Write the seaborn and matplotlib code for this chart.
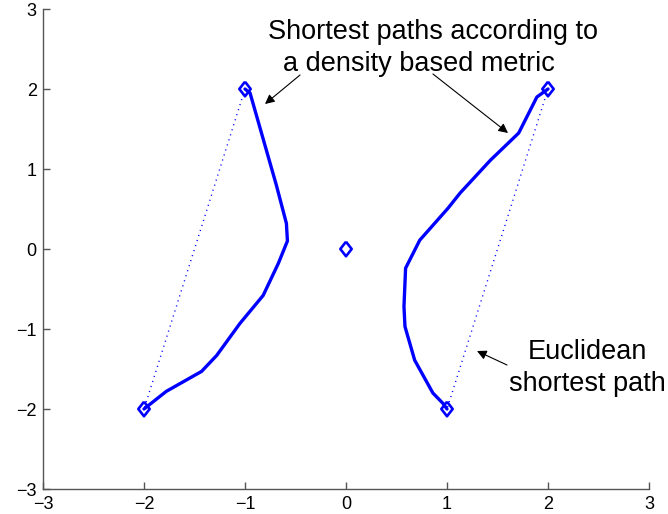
import matplotlib
matplotlib.use("Agg")
import matplotlib.pyplot as plt
import pandas as pd
import seaborn as sns

# Density-based shortest paths (solid)
left_x = [-1.00, -0.95, -0.69, -0.59, -0.58, -0.67, -0.82, -1.05, -1.28, -1.43, -1.78, -2.00]
left_y = [2.00, 1.95, 0.80, 0.32, 0.10, -0.18, -0.58, -0.93, -1.33, -1.53, -1.78, -2.00]
right_x = [2.00, 1.89, 1.71, 1.43, 1.13, 1.01, 0.73, 0.59, 0.574, 0.584, 0.68, 0.86, 0.96, 1.00]
right_y = [2.00, 1.90, 1.45, 1.11, 0.70, 0.51, 0.11, -0.24, -0.72, -0.97, -1.39, -1.80, -1.93, -2.00]

# Euclidean shortest paths (dotted straight segments)
eucl_left_x = [-1.0, -2.0]
eucl_left_y = [2.0, -2.0]
eucl_right_x = [2.0, 1.0]
eucl_right_y = [2.0, -2.0]

# Data points
point_x = [-1.0, -2.0, 0.0, 2.0, 1.0]
point_y = [2.0, -2.0, 0.0, 2.0, -2.0]

ticks = [-3, -2, -1, 0, 1, 2, 3]

density_df = pd.concat([
    pd.DataFrame({"x": left_x, "y": left_y, "path": "left"}),
    pd.DataFrame({"x": right_x, "y": right_y, "path": "right"}),
], ignore_index=True)
eucl_df = pd.concat([
    pd.DataFrame({"x": eucl_left_x, "y": eucl_left_y, "path": "left"}),
    pd.DataFrame({"x": eucl_right_x, "y": eucl_right_y, "path": "right"}),
], ignore_index=True)
points_df = pd.DataFrame({"x": point_x, "y": point_y})

sns.set_style("ticks")
plt.rcParams["font.family"] = ["Liberation Sans", "DejaVu Sans"]
plt.rcParams["axes.unicode_minus"] = True

fig = plt.figure(figsize=(6.68, 5.14), dpi=100)
ax = fig.add_axes([43 / 668, 25 / 514, 606 / 668, 480 / 514])

sns.lineplot(data=eucl_df, x="x", y="y", units="path", estimator=None, sort=False,
             color="blue", linewidth=1.0, linestyle=(0, (0.8, 3.0)), ax=ax)
sns.lineplot(data=density_df, x="x", y="y", units="path", estimator=None, sort=False,
             color="blue", linewidth=2.4, ax=ax)

diamond = [(0, 1), (0.78, 0), (0, -1), (-0.78, 0), (0, 1)]
sns.scatterplot(data=points_df, x="x", y="y", marker=diamond, s=110,
                facecolor="none", edgecolor="blue", linewidth=1.9, ax=ax, zorder=5)

ax.set_xlim(-3, 3)
ax.set_ylim(-3, 3)
ax.set_xticks(ticks)
ax.set_yticks(ticks)
ax.set_xlabel("")
ax.set_ylabel("")
sns.despine(ax=ax)
for side in ("left", "bottom"):
    ax.spines[side].set_color("#555555")
    ax.spines[side].set_linewidth(1.0)
ax.tick_params(direction="in", length=5, width=1, color="#555555",
               labelsize=13, labelcolor="black")
ax.tick_params(axis="x", pad=5)
ax.tick_params(axis="y", pad=4.5)

txt_kw = dict(fontsize=19.5, ha="center", va="baseline", color="black")
ax.text(0.866, 2.625, "Shortest paths according to", **txt_kw)
ax.text(0.723, 2.225, "a density based metric", **txt_kw)
ax.text(2.386, -1.375, "Euclidean", **txt_kw)
ax.text(2.39, -1.775, "shortest path", **txt_kw)

arrow_kw = dict(arrowstyle="-|>", color="black", lw=0.8, mutation_scale=14,
                shrinkA=0, shrinkB=0)
ax.annotate("", xy=(-0.802, 1.8125), xytext=(-0.455, 2.175), arrowprops=arrow_kw)
ax.annotate("", xy=(1.604, 1.45), xytext=(0.861, 2.1875), arrowprops=arrow_kw)
ax.annotate("", xy=(1.297, -1.275), xytext=(1.594, -1.45), arrowprops=arrow_kw)

fig.savefig("out.png", dpi=100)
